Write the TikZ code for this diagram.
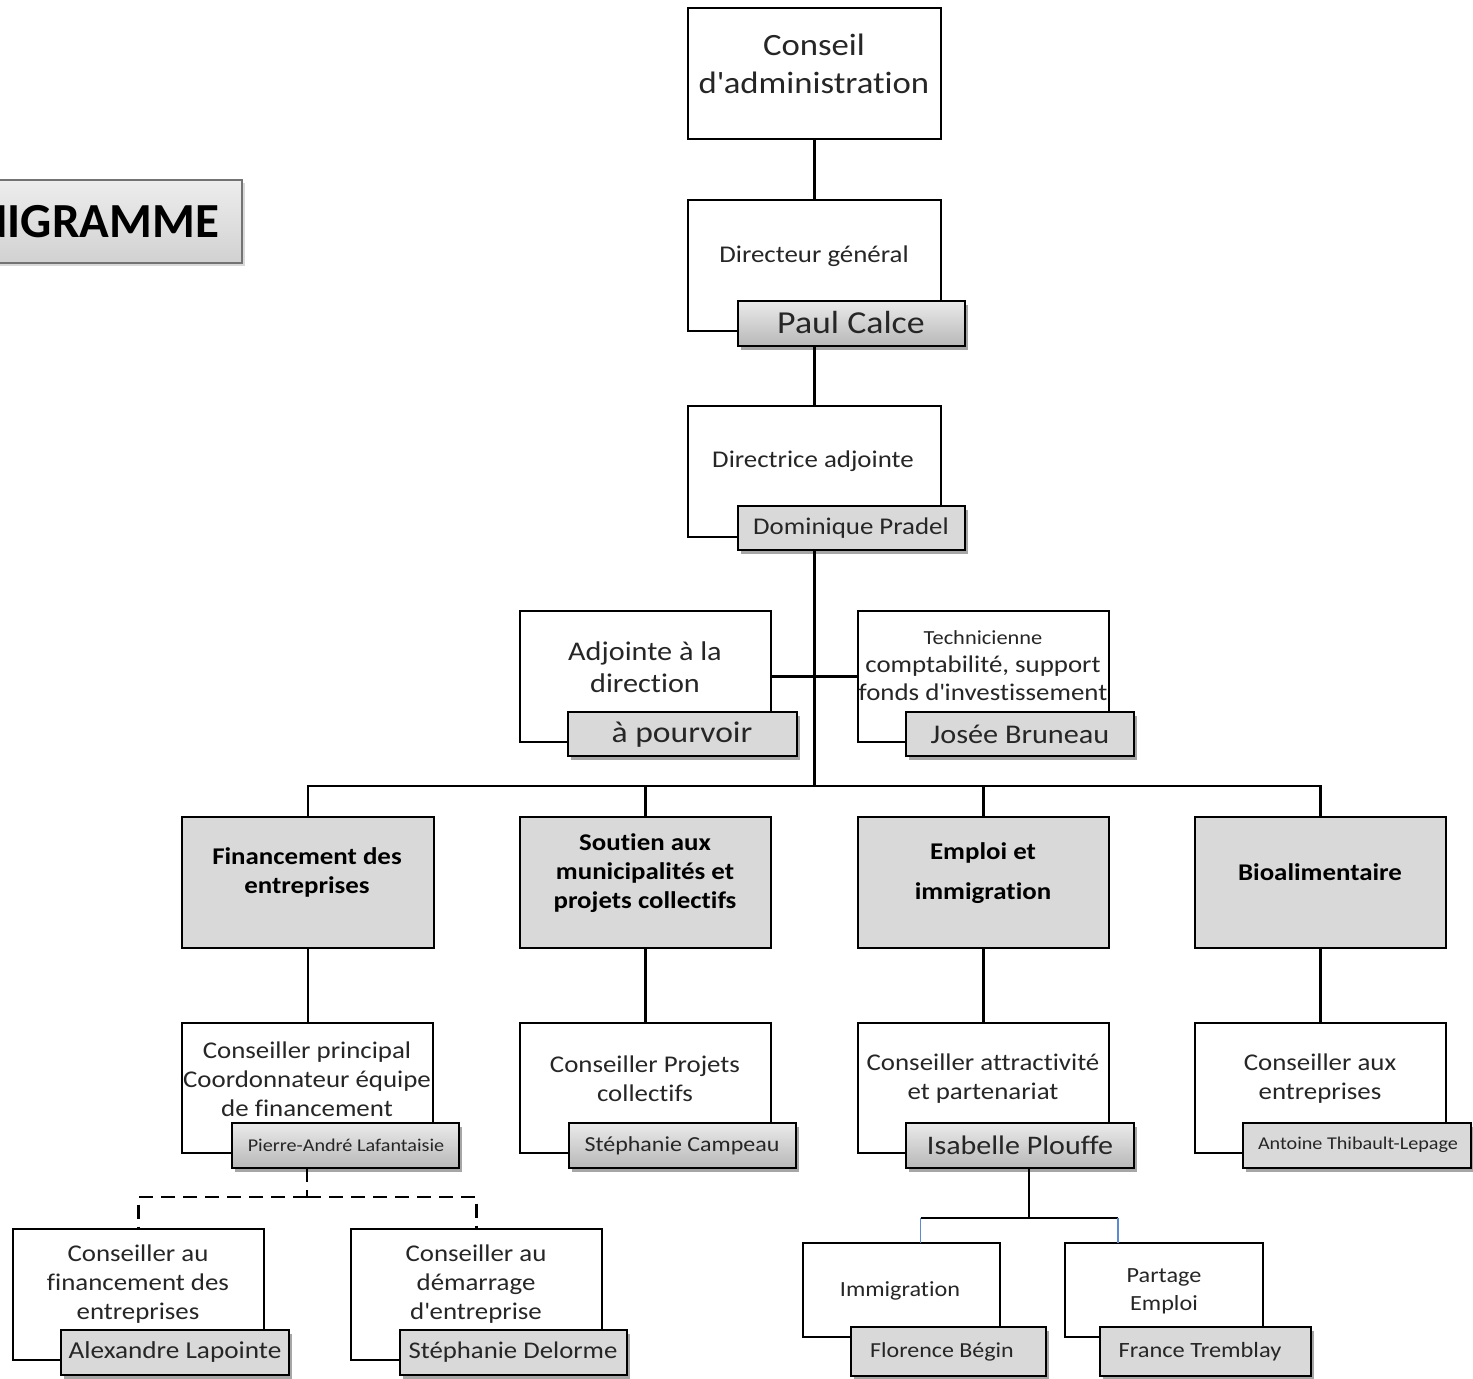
\documentclass[tikz,border=0pt]{standalone}
\usepackage{fontspec}
\setmainfont{Carlito}[FakeStretch=1.12, Ligatures={NoCommon}]
\newfontfamily\titlefont{Carlito}[Ligatures={NoCommon}]
\usetikzlibrary{shadows}
\newcommand\fsz[2]{\fontsize{#1}{#2}\selectfont}
\newcommand\ap{\textquotesingle}
\definecolor{flatgray}{RGB}{217,217,217}
\definecolor{bluel}{RGB}{91,140,210}
\tikzset{
  every node/.style={inner sep=0pt, outer sep=0pt},
  bx/.style args={#1/#2}{draw=black, line width=1.2pt, fill=white, rectangle, anchor=north west, minimum width=#1pt, minimum height=#2pt},
  cat/.style args={#1/#2}{bx=#1/#2, fill=flatgray},
  nm/.style args={#1/#2}{draw=black, line width=2.8pt, rectangle, anchor=north west, minimum width=#1pt, minimum height=#2pt,
     drop shadow={shadow xshift=3pt, shadow yshift=-4pt, opacity=0.35, fill=black}},
  nmflat/.style={fill=flatgray},
  nmgrad/.style={top color=white!92!black, bottom color=white!72!black},
  txt/.style={align=center, text=black!85},
  conn/.style={line width=2.6pt, draw=black},
  thin/.style={line width=1.3pt, draw=black},
  dsh/.style={line width=2.6pt, draw=black, dash pattern=on 14pt off 8pt},
}
\begin{document}
\begin{tikzpicture}[x=1pt, y=-1pt]
\useasboundingbox (0,0) rectangle (1473,1379);
% title
\begin{scope}
\clip (0,0) rectangle (1473,1379);
\node[draw=black!55, line width=2pt, rectangle, anchor=north west, minimum width=272pt, minimum height=83pt,
  top color=white!93!black, bottom color=white!82!black, drop shadow={shadow xshift=3pt, shadow yshift=-3pt, opacity=0.3}] (title) at (-30,180) {};
\node[anchor=east, font=\titlefont\fsz{49}{60}\bfseries] (titletxt) at (219,222) {ORGANIGRAMME};
\end{scope}

% boxes
\node[bx=253/131] (ca) at (688,8) {};
\node[txt, font=\fsz{31}{38}] (catxt) at (814,64) {Conseil\\d\ap administration};

\node[bx=253/131] (dg) at (688,200) {};
\node[txt, font=\fsz{24}{29}] (dgtxt) at (814,256) {Directeur général};
\node[nm=227/45, nmgrad] (paul) at (738,301) {};
\node[txt, font=\fsz{32}{36}] (paultxt) at (851,323) {Paul Calce};

\node[bx=253/131] (da) at (688,406) {};
\node[txt, font=\fsz{24}{29}] (datxt) at (813,461) {Directrice adjointe};
\node[nm=227/44, nmflat] (pradel) at (738,506) {};
\node[txt, font=\fsz{24}{29}] (pradeltxt) at (851,528) {Dominique Pradel};

\node[bx=251/131] (adj) at (520,611) {};
\node[txt, font=\fsz{27}{32}] (adjtxt) at (645,667) {Adjointe à la\\direction};
\node[nm=229/44, nmflat] (pourv) at (568,712) {};
\node[txt, font=\fsz{30}{34}] (pourvtxt) at (682,735) {à pourvoir};

\node[bx=251/131] (tech) at (858,611) {};
\node[txt, font=\fsz{24}{28}] (techtxt) at (983,666) {{\fsz{20}{28}Technicienne}\\comptabilité, support\\fonds d\ap investissement};
\node[nm=228/44, nmflat] (josee) at (906,712) {};
\node[txt, font=\fsz{27}{32}] (joseetxt) at (1020,734) {Josée Bruneau};

\node[cat=252/131] (fin) at (182,817) {};
\node[txt, font=\fsz{24}{29}\bfseries, text=black] (fintxt) at (307,872) {Financement des\\entreprises};
\node[cat=251/131] (sout) at (520,817) {};
\node[txt, font=\fsz{24}{29}\bfseries, text=black] (souttxt) at (645,873) {Soutien aux\\municipalités et\\projets collectifs};
\node[cat=251/131] (emp) at (858,817) {};
\node[txt, font=\fsz{24}{40}\bfseries, text=black] (emptxt) at (983,873) {Emploi et\\immigration};
\node[cat=251/131] (bio) at (1195,817) {};
\node[txt, font=\fsz{24}{29}\bfseries, text=black] (biotxt) at (1320,872) {Bioalimentaire};

\node[bx=251/130] (cp) at (182,1023) {};
\node[txt, font=\fsz{24}{29}] (cptxt) at (307,1079) {Conseiller principal\\Coordonnateur équipe\\de financement};
\node[nm=227/45, nmgrad] (pa) at (232,1123) {};
\node[txt, font=\fsz{18}{22}] (patxt) at (346,1145) {Pierre-André Lafantaisie};

\node[bx=251/130] (cpc) at (520,1023) {};
\node[txt, font=\fsz{24}{29}] (cpctxt) at (645,1079) {Conseiller Projets\\collectifs};
\node[nm=227/45, nmgrad] (sc) at (569,1123) {};
\node[txt, font=\fsz{21.4}{26}] (sctxt) at (682,1146) {Stéphanie Campeau};

\node[bx=251/130] (catt) at (858,1023) {};
\node[txt, font=\fsz{24}{29}] (catttxt) at (983,1079) {Conseiller attractivité\\et partenariat};
\node[nm=228/45, nmgrad] (isa) at (906,1123) {};
\node[txt, font=\fsz{26.8}{32}] (isatxt) at (1020,1145) {Isabelle Plouffe};

\node[bx=251/130] (caux) at (1195,1023) {};
\node[txt, font=\fsz{24}{29}] (cauxtxt) at (1320,1079) {Conseiller aux\\entreprises};
\node[nm=228/45, nmflat] (ant) at (1243,1123) {};
\node[txt, font=\fsz{18}{22}] (anttxt) at (1358,1145) {Antoine Thibault-Lepage};

\node[bx=251/131] (cfin) at (13,1229) {};
\node[txt, font=\fsz{24}{29}] (cfintxt) at (138,1284) {Conseiller au\\financement des\\entreprises};
\node[nm=228/45, nmflat] (alex) at (61,1330) {};
\node[txt, font=\fsz{24.3}{29}] (alextxt) at (175,1352) {Alexandre Lapointe};

\node[bx=251/131] (cdem) at (351,1229) {};
\node[txt, font=\fsz{24}{29}] (cdemtxt) at (476,1284) {Conseiller au\\démarrage\\d\ap entreprise};
\node[nm=227/45, nmflat] (delo) at (400,1330) {};
\node[txt, font=\fsz{23.9}{29}] (delotxt) at (513,1352) {Stéphanie Delorme};

\node[bx=197/94] (imm) at (803,1243) {};
\node[txt, font=\fsz{21.6}{28}] (immtxt) at (900,1291) {Immigration};
\node[nm=195/49, nmflat, line width=2.2pt, drop shadow={opacity=0}] (flo) at (851,1327) {};
\node[txt, font=\fsz{21.4}{26}] (flotxt) at (942,1352) {Florence Bégin};

\node[bx=198/94] (part) at (1065,1243) {};
\node[txt, font=\fsz{21.6}{28}] (parttxt) at (1164,1291) {Partage\\Emploi};
\node[nm=211/49, nmflat, line width=2.2pt, drop shadow={opacity=0}] (fra) at (1100,1327) {};
\node[txt, font=\fsz{21.8}{26}] (fratxt) at (1200,1352) {France Tremblay};

% connectors
\coordinate (bus) at (814.5,786);
\coordinate (fsplit) at (307,1197);
\coordinate (isplit) at (1029,1218);
\draw[conn] (ca.south) -- (dg.north);
\draw[conn] (paul.south -| dg.south) -- (da.north);
\draw[conn] (pradel.south -| da.south) -- (bus);
\draw[conn] (adj.east) -- (tech.west);
\draw[conn] (fin.north) |- (bus) -| (bio.north);
\draw[conn] (sout.north) -- (sout.north |- bus);
\draw[conn] (emp.north) -- (emp.north |- bus);
\draw[conn] (fin.south) -- (fin.south |- cp.north);
\draw[conn] (sout.south) -- (sout.south |- cpc.north);
\draw[conn] (emp.south) -- (emp.south |- catt.north);
\draw[conn] (bio.south) -- (bio.south |- caux.north);
\draw[dsh] (pa.south -| fsplit) -- (fsplit);
\draw[dsh] (fsplit) -| (cfin.north);
\draw[dsh] (fsplit) -| (cdem.north);
\draw[thin] (isa.south -| isplit) -- (isplit);
\draw[thin] ([xshift=19pt]imm.north |- isplit) -- ([xshift=-46pt]part.north |- isplit);
\draw[thin, draw=bluel] ([xshift=19pt]imm.north |- isplit) -- ([xshift=19pt]imm.north);
\draw[thin, draw=bluel] ([xshift=-46pt]part.north |- isplit) -- ([xshift=-46pt]part.north);
\end{tikzpicture}
\end{document}
